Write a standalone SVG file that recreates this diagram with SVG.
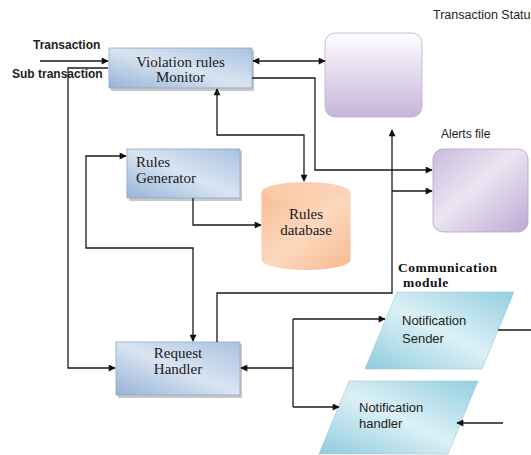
<svg xmlns="http://www.w3.org/2000/svg" width="531" height="455" viewBox="0 0 531 455">
<defs>
<style>
.lbl{font-family:"Liberation Sans",Arial,sans-serif;fill:#222}
.bold{font-weight:bold}
.ser{font-family:"Liberation Serif","Times New Roman",serif;font-size:15px;fill:#1a1a1a}
.conn{fill:none;stroke:#1a1a1a;stroke-width:1.3}
.blue{stroke:#8ea8c8;stroke-width:0.8}
.shadow{fill:#9a9a9a;opacity:0.55}
</style>
<linearGradient id="gBlue" x1="0" y1="1" x2="1" y2="0">
<stop offset="0" stop-color="#97b3d8"/>
<stop offset="0.5" stop-color="#d9e4f1"/>
<stop offset="1" stop-color="#a9c2e0"/>
</linearGradient>
<linearGradient id="gTS" x1="0" y1="0" x2="0" y2="1">
<stop offset="0" stop-color="#fefdff"/>
<stop offset="1" stop-color="#c6b6d8"/>
</linearGradient>
<linearGradient id="gAl" x1="0" y1="0" x2="1" y2="1">
<stop offset="0" stop-color="#c9bbdd"/>
<stop offset="0.45" stop-color="#ebe5f2"/>
<stop offset="1" stop-color="#bca9d4"/>
</linearGradient>
<linearGradient id="gDB" x1="0" y1="0" x2="1" y2="1">
<stop offset="0" stop-color="#f9bc94"/>
<stop offset="0.5" stop-color="#fdd9bf"/>
<stop offset="1" stop-color="#f8b88e"/>
</linearGradient>
<linearGradient id="gDBtop" x1="0" y1="0" x2="1" y2="0">
<stop offset="0" stop-color="#fac9a6"/>
<stop offset="1" stop-color="#fcd6ba"/>
</linearGradient>
<linearGradient id="gCy" x1="0" y1="1" x2="1" y2="0">
<stop offset="0" stop-color="#8fcbdd"/>
<stop offset="0.5" stop-color="#dcf0f6"/>
<stop offset="1" stop-color="#93cfe0"/>
</linearGradient>
<marker id="ah" viewBox="0 0 10 10" refX="9" refY="5" markerWidth="8" markerHeight="7" markerUnits="userSpaceOnUse" orient="auto-start-reverse">
<path d="M0,0 L10,5 L0,10 z" fill="#111"/>
</marker>
</defs>
<rect width="531" height="455" fill="#ffffff"/>

<g id="label-transaction">
<text class="lbl bold" x="33" y="49" font-size="12">Transaction</text>
<text class="lbl bold" x="12" y="78" font-size="12">Sub transaction</text>
</g>

<g id="monitor">
<rect class="shadow" x="111" y="50" width="143" height="41"/>
<rect x="109" y="48" width="143" height="40" fill="url(#gBlue)" class="blue"/>
<text class="ser" x="180.5" y="67" text-anchor="middle">Violation rules</text>
<text class="ser" x="180.5" y="82" text-anchor="middle">Monitor</text>
</g>

<g id="transaction-status">
<rect x="325" y="33" width="97" height="84" rx="10" fill="url(#gTS)" stroke="#bcaecd" stroke-width="0.8"/>
<text class="lbl" x="433" y="19" font-size="12.5">Transaction Status</text>
</g>

<g id="rules-generator">
<rect class="shadow" x="129" y="151" width="113" height="50"/>
<rect x="127" y="149" width="113" height="49" fill="url(#gBlue)" class="blue"/>
<text class="ser" x="136" y="167">Rules</text>
<text class="ser" x="136" y="183">Generator</text>
</g>

<g id="rules-database">
<path d="M261.5,192 V260 A44.5,10 0 0 0 350.5,260 V192 Z" fill="url(#gDB)"/>
<ellipse cx="306" cy="192" rx="44.5" ry="10" fill="url(#gDBtop)"/>
<text class="ser" x="306" y="219" text-anchor="middle">Rules</text>
<text class="ser" x="306" y="235" text-anchor="middle">database</text>
</g>

<g id="alerts-file">
<rect x="433" y="149" width="95" height="83" rx="10" fill="url(#gAl)" stroke="#b4a3cb" stroke-width="0.8"/>
<text class="lbl" x="441" y="138" font-size="12">Alerts file</text>
</g>

<g id="request-handler">
<rect class="shadow" x="118" y="344" width="124" height="54"/>
<rect x="116" y="342" width="124" height="53" fill="url(#gBlue)" class="blue"/>
<text class="ser" x="178" y="358" text-anchor="middle">Request</text>
<text class="ser" x="178" y="374" text-anchor="middle">Handler</text>
</g>

<g id="communication-module">
<text x="398" y="272" font-family="Liberation Serif,'Times New Roman',serif" font-weight="bold" font-size="13.5" letter-spacing="0.5" fill="#111">Communication</text>
<text x="403" y="287" font-family="Liberation Serif,'Times New Roman',serif" font-weight="bold" font-size="13.5" letter-spacing="0.5" fill="#111">module</text>
</g>

<g id="notification-sender">
<polygon points="365,369 397,292 514,292 482,369" fill="url(#gCy)" stroke="#9fc9d6" stroke-width="0.6"/>
<text class="lbl" x="402" y="325" font-size="13">Notification</text>
<text class="lbl" x="402" y="343" font-size="13">Sender</text>
</g>

<g id="notification-handler">
<polygon points="319,454 349,381 478,381 448,454" fill="url(#gCy)" stroke="#9fc9d6" stroke-width="0.6"/>
<text class="lbl" x="359" y="412" font-size="13">Notification</text>
<text class="lbl" x="359" y="428" font-size="13">handler</text>
</g>

<g id="connectors">
<path class="conn" d="M40,61 H108" marker-end="url(#ah)"/>
<path class="conn" d="M108,68 H68 V368 H115" marker-end="url(#ah)" stroke="#444"/>
<path class="conn" d="M253,61 H325" marker-start="url(#ah)" marker-end="url(#ah)"/>
<path class="conn" d="M252,78 H315 V170 H432" marker-end="url(#ah)"/>
<path class="conn" d="M217,89 V135 H304 V181" marker-start="url(#ah)" marker-end="url(#ah)"/>
<path class="conn" d="M126,156 H86 V248 H193 V341" marker-start="url(#ah)" marker-end="url(#ah)"/>
<path class="conn" d="M193,198 V225 H261" marker-end="url(#ah)"/>
<path class="conn" d="M217,342 V293 H392 V130" marker-end="url(#ah)"/>
<path class="conn" d="M392,191 H432" marker-end="url(#ah)"/>
<path class="conn" d="M293,368 H241" marker-end="url(#ah)"/>
<path class="conn" d="M293,319 V407"/>
<path class="conn" d="M293,319 H385" marker-end="url(#ah)"/>
<path class="conn" d="M293,407 H339" marker-end="url(#ah)"/>
<path class="conn" d="M498,330 H531"/>
<path class="conn" d="M503,423 H457" marker-end="url(#ah)"/>
</g>
</svg>
